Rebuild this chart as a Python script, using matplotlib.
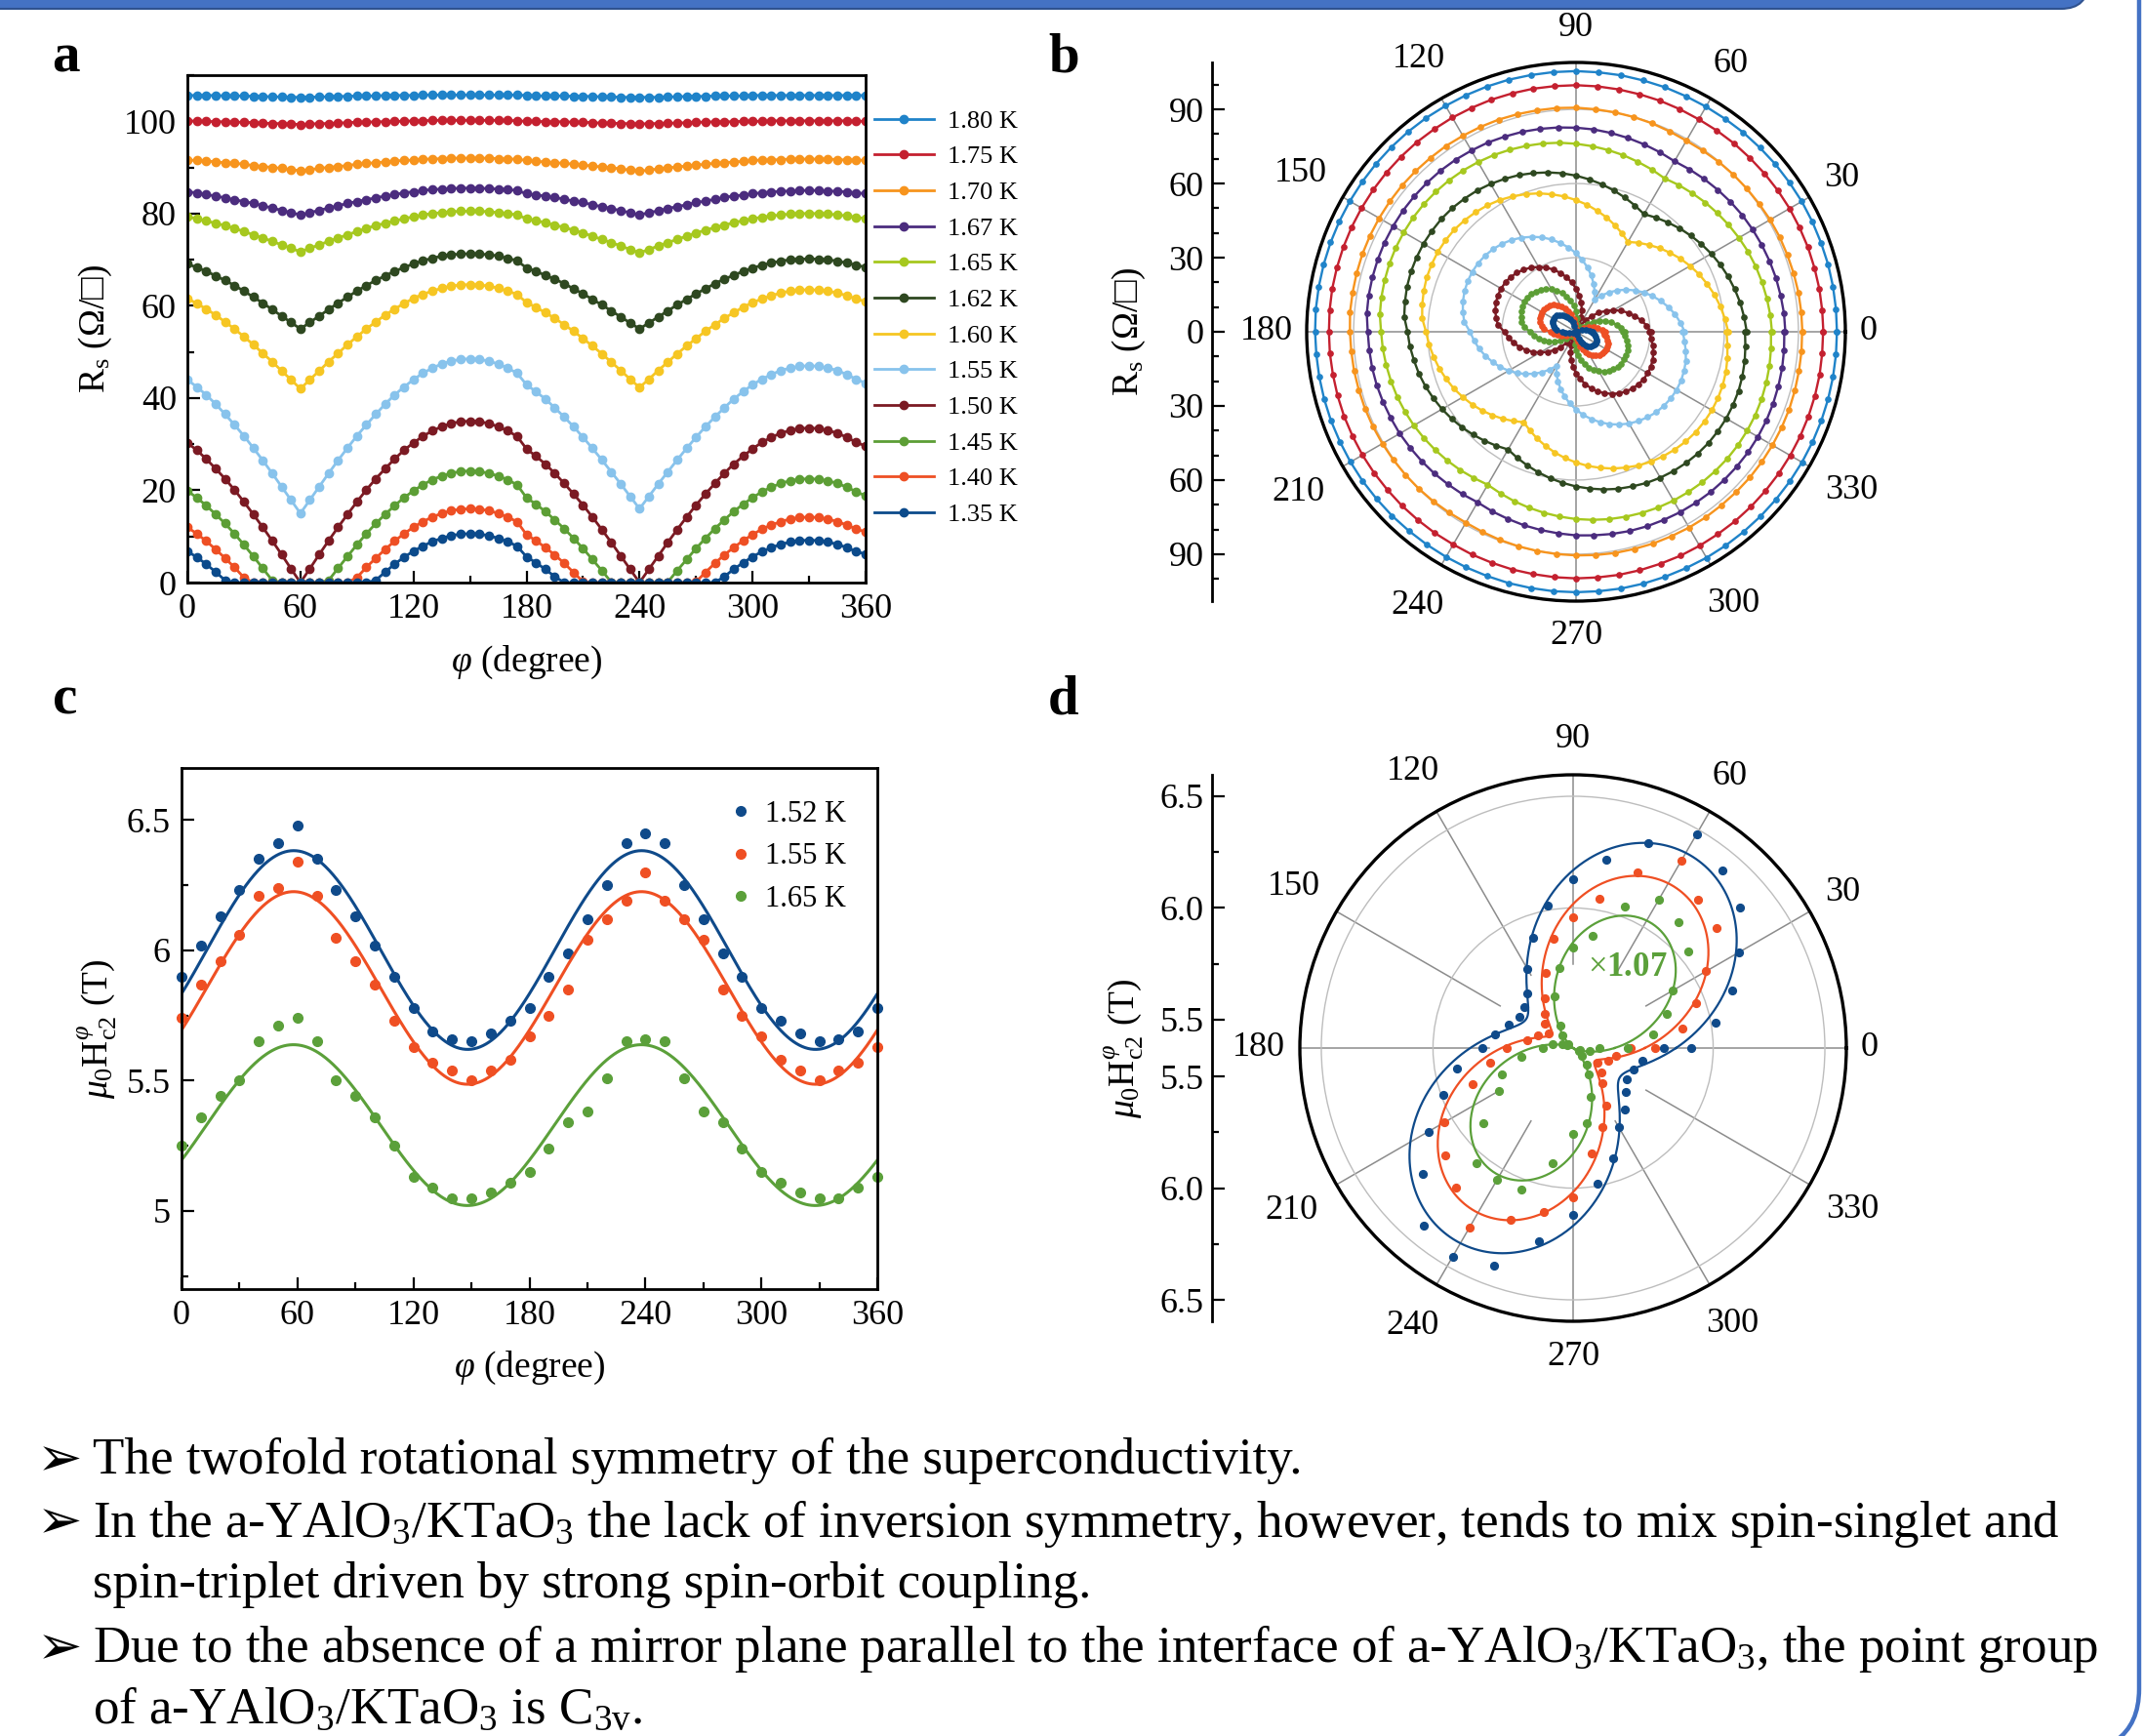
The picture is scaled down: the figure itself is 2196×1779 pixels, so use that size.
"""
Anisotropic superconductivity figure (panels a-d) with slide-style notes.
Saves out.png at 2196x1779.
"""
import numpy as np
import matplotlib
matplotlib.use('Agg')
import matplotlib.pyplot as plt
from matplotlib.patches import FancyBboxPatch, PathPatch
from matplotlib.path import Path
from matplotlib.transforms import IdentityTransform

plt.rcParams['font.family'] = ['Liberation Serif', 'DejaVu Sans']
plt.rcParams['mathtext.fontset'] = 'custom'
plt.rcParams['mathtext.rm'] = 'Liberation Serif'
plt.rcParams['mathtext.it'] = 'Liberation Serif:italic'
plt.rcParams['mathtext.bf'] = 'Liberation Serif:bold'
plt.rcParams['mathtext.fallback'] = 'stix'

# ---------------- data: panel a / b (R_s vs field angle) ----------------
phi_a = np.arange(0, 361, 5)
temps_a = ['1.80', '1.75', '1.70', '1.67', '1.65', '1.62',
           '1.60', '1.55', '1.50', '1.45', '1.40', '1.35']
colors_a = ['#1f83c9', '#c4202f', '#f7941d', '#4b2c7e', '#a6c81e', '#2e4820',
            '#f6c623', '#88c3ec', '#7b1a23', '#5c9e35', '#ee4f24', '#0b4a8b']

R_180 = [105.6, 105.6, 105.6, 105.6, 105.5, 105.5, 105.5, 105.4, 105.4, 105.3, 105.3, 105.2,
         105.2, 105.2, 105.3, 105.3, 105.4, 105.4, 105.5, 105.5, 105.5, 105.6, 105.6, 105.6,
         105.6, 105.7, 105.7, 105.7, 105.7, 105.7, 105.7, 105.7, 105.7, 105.7, 105.7, 105.7,
         105.6, 105.5, 105.5, 105.5, 105.5, 105.4, 105.4, 105.4, 105.3, 105.3, 105.2, 105.2,
         105.2, 105.2, 105.2, 105.3, 105.3, 105.4, 105.4, 105.4, 105.5, 105.5, 105.5, 105.5,
         105.6, 105.6, 105.6, 105.6, 105.6, 105.6, 105.6, 105.6, 105.6, 105.6, 105.6, 105.6,
         105.6]
R_175 = [100.1, 100.0, 100.0, 99.9, 99.9, 99.8, 99.8, 99.7, 99.6, 99.5, 99.5, 99.4,
         99.3, 99.4, 99.5, 99.5, 99.6, 99.7, 99.8, 99.8, 99.9, 99.9, 100.0, 100.0,
         100.1, 100.1, 100.2, 100.2, 100.2, 100.2, 100.2, 100.2, 100.2, 100.2, 100.2, 100.1,
         100.0, 100.0, 99.9, 99.9, 99.9, 99.8, 99.8, 99.7, 99.6, 99.6, 99.5, 99.5,
         99.4, 99.5, 99.5, 99.6, 99.6, 99.7, 99.8, 99.8, 99.9, 99.9, 99.9, 100.0,
         100.0, 100.0, 100.1, 100.1, 100.1, 100.1, 100.1, 100.1, 100.1, 100.1, 100.1, 100.0,
         100.0]
R_170 = [91.6, 91.5, 91.4, 91.2, 91.0, 90.9, 90.7, 90.4, 90.2, 90.0, 89.8, 89.5,
         89.3, 89.5, 89.8, 90.0, 90.2, 90.4, 90.7, 90.9, 91.0, 91.2, 91.4, 91.5,
         91.6, 91.8, 91.8, 91.9, 92.0, 92.0, 92.0, 92.0, 92.0, 91.9, 91.8, 91.8,
         91.5, 91.3, 91.2, 91.0, 90.9, 90.7, 90.5, 90.3, 90.1, 89.9, 89.7, 89.4,
         89.2, 89.4, 89.7, 89.9, 90.1, 90.3, 90.5, 90.7, 90.9, 91.0, 91.2, 91.3,
         91.5, 91.6, 91.6, 91.7, 91.8, 91.8, 91.8, 91.8, 91.8, 91.7, 91.6, 91.6,
         91.5]
R_167 = [84.7, 84.5, 84.1, 83.8, 83.4, 83.0, 82.6, 82.2, 81.7, 81.2, 80.7, 80.2,
         79.7, 80.2, 80.7, 81.2, 81.7, 82.2, 82.6, 83.0, 83.4, 83.8, 84.1, 84.5,
         84.7, 85.0, 85.2, 85.3, 85.4, 85.5, 85.5, 85.5, 85.4, 85.3, 85.2, 85.0,
         84.3, 84.0, 83.8, 83.5, 83.1, 82.7, 82.4, 81.9, 81.5, 81.1, 80.6, 80.2,
         79.7, 80.2, 80.6, 81.1, 81.5, 81.9, 82.4, 82.7, 83.1, 83.5, 83.8, 84.0,
         84.3, 84.5, 84.7, 84.8, 84.9, 85.0, 85.0, 85.0, 84.9, 84.8, 84.7, 84.5,
         84.3]
R_165 = [79.3, 78.9, 78.4, 77.9, 77.4, 76.8, 76.1, 75.4, 74.7, 74.0, 73.2, 72.5,
         71.7, 72.5, 73.2, 74.0, 74.7, 75.4, 76.1, 76.8, 77.4, 77.9, 78.4, 78.9,
         79.3, 79.7, 80.0, 80.2, 80.4, 80.5, 80.5, 80.5, 80.4, 80.2, 80.0, 79.7,
         78.9, 78.5, 78.0, 77.5, 77.0, 76.4, 75.8, 75.1, 74.4, 73.7, 73.0, 72.2,
         71.5, 72.2, 73.0, 73.7, 74.4, 75.1, 75.8, 76.4, 77.0, 77.5, 78.0, 78.5,
         78.9, 79.2, 79.5, 79.7, 79.9, 80.0, 80.0, 80.0, 79.9, 79.7, 79.5, 79.2,
         78.9]
R_162 = [69.1, 68.3, 67.5, 66.5, 65.5, 64.4, 63.2, 61.9, 60.6, 59.2, 57.8, 56.4,
         55.0, 56.4, 57.8, 59.2, 60.6, 61.9, 63.2, 64.4, 65.5, 66.5, 67.5, 68.3,
         69.1, 69.8, 70.3, 70.8, 71.1, 71.2, 71.3, 71.2, 71.1, 70.8, 70.3, 69.8,
         68.2, 67.5, 66.6, 65.8, 64.8, 63.7, 62.6, 61.4, 60.2, 58.9, 57.6, 56.3,
         55.0, 56.3, 57.6, 58.9, 60.2, 61.4, 62.6, 63.7, 64.8, 65.8, 66.6, 67.5,
         68.2, 68.8, 69.3, 69.7, 70.0, 70.1, 70.2, 70.1, 70.0, 69.7, 69.3, 68.8,
         68.4]
R_160 = [61.6, 60.5, 59.3, 58.0, 56.5, 55.0, 53.3, 51.6, 49.7, 47.9, 45.9, 44.0,
         42.0, 44.0, 45.9, 47.9, 49.7, 51.6, 53.3, 55.0, 56.5, 58.0, 59.3, 60.5,
         61.6, 62.5, 63.2, 63.8, 64.3, 64.5, 64.6, 64.5, 64.3, 63.8, 63.2, 62.5,
         60.7, 59.7, 58.5, 57.3, 55.9, 54.5, 52.9, 51.3, 49.6, 47.8, 46.0, 44.1,
         42.3, 44.1, 46.0, 47.8, 49.6, 51.3, 52.9, 54.5, 55.9, 57.3, 58.5, 59.7,
         60.7, 61.5, 62.2, 62.8, 63.2, 63.4, 63.5, 63.4, 63.2, 62.8, 62.2, 61.5,
         60.9]
R_155 = [44.0, 42.4, 40.7, 38.7, 36.5, 34.2, 31.8, 29.2, 26.5, 23.7, 20.8, 17.9,
         15.0, 17.9, 20.8, 23.7, 26.5, 29.2, 31.8, 34.2, 36.5, 38.7, 40.7, 42.4,
         44.0, 45.4, 46.5, 47.4, 48.0, 48.4, 48.5, 48.4, 48.0, 47.4, 46.5, 45.4,
         42.9, 41.4, 39.8, 37.9, 35.9, 33.8, 31.5, 29.1, 26.6, 24.0, 21.4, 18.7,
         16.0, 18.7, 21.4, 24.0, 26.6, 29.1, 31.5, 33.8, 35.9, 37.9, 39.8, 41.4,
         42.9, 44.1, 45.1, 46.0, 46.5, 46.9, 47.0, 46.9, 46.5, 46.0, 45.1, 44.1,
         43.2]
R_150 = [30.3, 28.7, 26.8, 24.7, 22.5, 20.1, 17.5, 14.8, 12.0, 9.1, 6.1, 3.0,
         0.0, 3.0, 6.1, 9.1, 12.0, 14.8, 17.5, 20.1, 22.5, 24.7, 26.8, 28.7,
         30.3, 31.7, 32.9, 33.8, 34.5, 34.9, 35.0, 34.9, 34.5, 33.8, 32.9, 31.7,
         29.0, 27.4, 25.7, 23.7, 21.5, 19.2, 16.8, 14.2, 11.5, 8.7, 5.8, 2.9,
         0.0, 2.9, 5.8, 8.7, 11.5, 14.2, 16.8, 19.2, 21.5, 23.7, 25.7, 27.4,
         29.0, 30.4, 31.5, 32.4, 33.0, 33.4, 33.5, 33.4, 33.0, 32.4, 31.5, 30.4,
         29.6]
R_145 = [19.9, 18.4, 16.7, 14.8, 12.8, 10.6, 8.2, 5.7, 3.1, 0.5, 0.0, 0.0,
         0.0, 0.0, 0.0, 0.5, 3.1, 5.7, 8.2, 10.6, 12.8, 14.8, 16.7, 18.4,
         19.9, 21.2, 22.3, 23.1, 23.7, 24.1, 24.2, 24.1, 23.7, 23.1, 22.3, 21.2,
         18.4, 17.0, 15.4, 13.6, 11.7, 9.6, 7.4, 5.0, 2.6, 0.1, 0.0, 0.0,
         0.0, 0.0, 0.0, 0.1, 2.6, 5.0, 7.4, 9.6, 11.7, 13.6, 15.4, 17.0,
         18.4, 19.7, 20.7, 21.5, 22.1, 22.4, 22.5, 22.4, 22.1, 21.5, 20.7, 19.7,
         18.8]
R_140 = [12.0, 10.6, 9.0, 7.2, 5.3, 3.3, 1.1, 0.0, 0.0, 0.0, 0.0, 0.0,
         0.0, 0.0, 0.0, 0.0, 0.0, 0.0, 1.1, 3.3, 5.3, 7.2, 9.0, 10.6,
         12.0, 13.2, 14.2, 15.0, 15.6, 15.9, 16.0, 15.9, 15.6, 15.0, 14.2, 13.2,
         10.4, 9.1, 7.6, 6.0, 4.2, 2.2, 0.2, 0.0, 0.0, 0.0, 0.0, 0.0,
         0.0, 0.0, 0.0, 0.0, 0.0, 0.0, 0.2, 2.2, 4.2, 6.0, 7.6, 9.1,
         10.4, 11.6, 12.5, 13.2, 13.8, 14.1, 14.2, 14.1, 13.8, 13.2, 12.5, 11.6,
         11.0]
R_135 = [6.8, 5.5, 4.0, 2.3, 0.5, 0.0, 0.0, 0.0, 0.0, 0.0, 0.0, 0.0,
         0.0, 0.0, 0.0, 0.0, 0.0, 0.0, 0.0, 0.0, 0.5, 2.3, 4.0, 5.5,
         6.8, 7.9, 8.9, 9.6, 10.2, 10.5, 10.6, 10.5, 10.2, 9.6, 8.9, 7.9,
         5.6, 4.3, 2.9, 1.3, 0.0, 0.0, 0.0, 0.0, 0.0, 0.0, 0.0, 0.0,
         0.0, 0.0, 0.0, 0.0, 0.0, 0.0, 0.0, 0.0, 0.0, 1.3, 2.9, 4.3,
         5.6, 6.7, 7.6, 8.3, 8.8, 9.1, 9.2, 9.1, 8.8, 8.3, 7.6, 6.7,
         6.2]
R_s = [R_180, R_175, R_170, R_167, R_165, R_162,
       R_160, R_155, R_150, R_145, R_140, R_135]

# ---------------- data: panel c / d (upper critical field) ----------------
phi_c = np.arange(0, 361, 10)
temps_c = ['1.52', '1.55', '1.65']
colors_c = ['#0f4a8a', '#ef4f23', '#5ba03a']
Hc2_152 = [5.90, 6.02, 6.13, 6.23, 6.35, 6.41, 6.48, 6.35, 6.23, 6.13, 6.02, 5.90,
           5.78, 5.69, 5.66, 5.65, 5.68, 5.73, 5.78, 5.90, 5.99, 6.12, 6.25, 6.41,
           6.45, 6.41, 6.25, 6.12, 5.99, 5.90, 5.78, 5.73, 5.68, 5.65, 5.66, 5.69,
           5.78]
Hc2_155 = [5.74, 5.87, 5.96, 6.06, 6.21, 6.24, 6.34, 6.21, 6.05, 5.96, 5.87, 5.73,
           5.63, 5.57, 5.54, 5.50, 5.54, 5.58, 5.67, 5.75, 5.85, 6.04, 6.12, 6.19,
           6.30, 6.19, 6.12, 6.04, 5.85, 5.75, 5.67, 5.58, 5.54, 5.50, 5.54, 5.57,
           5.63]
Hc2_165 = [5.25, 5.36, 5.44, 5.50, 5.65, 5.71, 5.74, 5.65, 5.50, 5.44, 5.36, 5.25,
           5.13, 5.09, 5.05, 5.05, 5.07, 5.11, 5.15, 5.24, 5.34, 5.38, 5.51, 5.65,
           5.66, 5.65, 5.51, 5.38, 5.34, 5.24, 5.15, 5.11, 5.07, 5.05, 5.05, 5.09,
           5.13]
Hc2 = [Hc2_152, Hc2_155, Hc2_165]
d_scale = [1.0, 1.0, 1.07]
theta_labels = list(range(0, 360, 30))
# distance of each angle label from the centre, relative to the outer circle
label_dist = [1.085, 1.14, 1.15, 1.13, 1.17, 1.18, 1.15, 1.19, 1.175, 1.13, 1.165, 1.18]

W, H = 2196, 1779
fig = plt.figure(figsize=(W / 100, H / 100), dpi=100)


def box(l, t, r, b):
    # pixel box (from top-left) -> figure fraction rect
    return [l / W, 1 - b / H, (r - l) / W, (b - t) / H]


def style_cartesian(ax):
    for s in ax.spines.values():
        s.set_linewidth(2.0)
    ax.tick_params(which='both', direction='in', top=False, right=False,
                   labelsize=26, width=1.6)
    ax.tick_params(which='major', length=9, pad=8)
    ax.tick_params(which='minor', length=5)


def scale_axis(rect, lim, ticks, labels, minors):
    sc = fig.add_axes(rect)
    sc.set_ylim(-lim, lim)
    for s in ['top', 'right', 'bottom']:
        sc.spines[s].set_visible(False)
    sc.spines['left'].set_linewidth(2.0)
    sc.set_xticks([])
    sc.set_yticks(ticks)
    sc.set_yticklabels(labels)
    sc.set_yticks(minors, minor=True)
    sc.tick_params(which='both', direction='in', labelsize=26, width=1.6)
    sc.tick_params(which='major', length=9, pad=6)
    sc.tick_params(which='minor', length=5)
    sc.patch.set_visible(False)
    return sc


def style_polar(ax, rmin, rmax):
    ax.set_xticks(np.radians(theta_labels))
    ax.set_xticklabels([])
    ax.set_xticks(np.radians(np.arange(15, 360, 30)), minor=True)
    ax.tick_params(axis='x', which='major', direction='in', length=10, width=2)
    ax.tick_params(axis='x', which='minor', direction='in', length=6, width=1.5)
    ax.spines['polar'].set_linewidth(2.4)
    ax.set_yticklabels([])
    ax.yaxis.grid(True, color='#bdbdbd', lw=1.0)
    for a, f in zip(theta_labels, label_dist):
        ax.text(np.radians(a), rmin + (rmax - rmin) * f, str(a), fontsize=26,
                ha='center', va='center', clip_on=False)


# ---------------- panel a ----------------
ax_a = fig.add_axes(box(192, 77, 887, 597))
for T, R, c in zip(temps_a, R_s, colors_a):
    ax_a.plot(phi_a, R, '-o', color=c, lw=2.0, ms=6.0, label=f'{T} K')
ax_a.set_xlim(0, 360)
ax_a.set_ylim(0, 110)
ax_a.set_xticks(range(0, 361, 60))
ax_a.set_xticks(range(30, 360, 60), minor=True)
ax_a.set_yticks(range(0, 101, 20))
ax_a.set_yticks(range(10, 111, 20), minor=True)
style_cartesian(ax_a)
ax_a.set_xlabel(r'$\varphi$ (degree)', fontsize=27)
ax_a.xaxis.set_label_coords(0.5, -0.121)
ax_a.set_ylabel(r'R$_\mathrm{s}$ ($\Omega$/□)', fontsize=27)
ax_a.yaxis.set_label_coords(-0.108, 0.5)
ax_a.legend(loc='upper left', bbox_to_anchor=(1.013, 0.932), frameon=False,
            fontsize=19, handlelength=2.3, handletextpad=0.55, labelspacing=0.5,
            borderpad=0, borderaxespad=0)

# ---------------- panel b ----------------
ax_b = fig.add_axes(box(1339, 64, 1891, 616), projection='polar')
th_a = np.radians(phi_a)
for R, c in zip(R_s, colors_a):
    ax_b.plot(th_a, R, '-o', color=c, lw=1.7, ms=3.8)
ax_b.set_ylim(0, 109)
ax_b.set_yticks([30, 60, 90])
style_polar(ax_b, 0, 109)
ax_b.xaxis.grid(True, color='#8c8c8c', lw=1.1)
b_vals = [90, 60, 30, 0]
scale_axis(box(1242, 64, 1243, 616), 109,
           [v for v in b_vals] + [-v for v in b_vals[:-1]],
           [str(v) for v in b_vals] + [str(v) for v in b_vals[:-1]],
           [v for v in range(-100, 101, 10) if v % 30 != 0])
fig.text(1157 / W, 1 - 340 / H, r'R$_\mathrm{s}$ ($\Omega$/□)', rotation=90,
         ha='center', va='center', fontsize=27)

# ---------------- panel c ----------------
ax_c = fig.add_axes(box(186, 787, 899, 1321))
phi_fit = np.linspace(0, 360, 721)
fits = []
for T, Hv, c in zip(temps_c, Hc2, colors_c):
    ang = np.radians(phi_c)
    A = np.column_stack([np.ones_like(ang), np.cos(2 * ang), np.sin(2 * ang)])
    coef = np.linalg.lstsq(A, np.array(Hv), rcond=None)[0]
    af = np.radians(phi_fit)
    fit = coef[0] + coef[1] * np.cos(2 * af) + coef[2] * np.sin(2 * af)
    fits.append(fit)
    ax_c.plot(phi_c, Hv, 'o', color=c, ms=7, label=f'{T} K', clip_on=False)
    ax_c.plot(phi_fit, fit, '-', color=c, lw=2.2)
ax_c.set_xlim(0, 360)
ax_c.set_ylim(4.7, 6.7)
ax_c.set_xticks(range(0, 361, 60))
ax_c.set_xticks(range(30, 360, 60), minor=True)
ax_c.set_yticks([5, 5.5, 6, 6.5])
ax_c.set_yticklabels(['5', '5.5', '6', '6.5'])
ax_c.set_yticks([4.75, 5.25, 5.75, 6.25], minor=True)
style_cartesian(ax_c)
ax_c.set_xlabel(r'$\varphi$ (degree)', fontsize=27)
ax_c.xaxis.set_label_coords(0.5, -0.116)
ax_c.set_ylabel(r'$\mu_\mathrm{0}$H$_{\mathrm{c2}}^{\varphi}$ (T)', fontsize=27)
ax_c.yaxis.set_label_coords(-0.09, 0.5)
ax_c.legend(loc='upper left', bbox_to_anchor=(0.787, 0.938), frameon=False,
            fontsize=22, handlelength=0.8, handletextpad=0.42, labelspacing=0.47,
            borderpad=0, borderaxespad=0, numpoints=1)

# ---------------- panel d ----------------
d_rmin, d_rmax = 5.373, 6.596
ax_d = fig.add_axes(box(1332, 794, 1892, 1354), projection='polar')
for Hv, fit, k, c in zip(Hc2, fits, d_scale, colors_c):
    ax_d.plot(np.radians(phi_fit), fit * k, '-', color=c, lw=1.6)
    ax_d.plot(np.radians(phi_c), np.array(Hv) * k, 'o', color=c, ms=5.6)
ax_d.set_ylim(d_rmin, d_rmax)
ax_d.set_yticks([6.0, 6.5])
style_polar(ax_d, d_rmin, d_rmax)
ax_d.xaxis.grid(False)
for a in range(0, 360, 30):
    ax_d.plot([np.radians(a)] * 2, [5.75, d_rmax], color='#8c8c8c', lw=1.1, zorder=0.5)
ax_d.text(0.60, 0.648, r'$\times$1.07', transform=ax_d.transAxes, color=colors_c[2],
          fontsize=25, fontweight='bold', ha='center', va='center')
d_vals = [6.5, 6.0, 5.5]
scale_axis(box(1242, 794, 1243, 1354), d_rmax - d_rmin,
           [v - d_rmin for v in d_vals] + [d_rmin - v for v in d_vals],
           [f'{v:.1f}' for v in d_vals] * 2,
           [v - d_rmin for v in (6.25, 5.75)] + [d_rmin - v for v in (6.25, 5.75)])
fig.text(1152 / W, 1 - 1074 / H, r'$\mu_\mathrm{0}$H$_{\mathrm{c2}}^{\varphi}$ (T)',
         rotation=90, ha='center', va='center', fontsize=27)

# ---------------- panel letters ----------------
for lab, x, y in [('a', 67, 59), ('b', 1090, 59), ('c', 67, 717), ('d', 1090, 717)]:
    fig.text(x / W, 1 - y / H, lab, fontsize=41, fontweight='bold', ha='center', va='center')

# ---------------- bullet notes ----------------
notes = ["The twofold rotational symmetry of the superconductivity.",
         "In the a-YAlO$_\\mathrm{3}$/KTaO$_\\mathrm{3}$ the lack of inversion symmetry, "
         "however, tends to mix spin-singlet and",
         "spin-triplet driven by strong spin-orbit coupling.",
         "Due to the absence of a mirror plane parallel to the interface of "
         "a-YAlO$_\\mathrm{3}$/KTaO$_\\mathrm{3}$, the point group",
         "of a-YAlO$_\\mathrm{3}$/KTaO$_\\mathrm{3}$ is C$_{\\mathrm{3v}}$."]
note_y = [1497, 1561, 1624, 1690, 1753]
arrows = [True, True, False, True, False]
for txt, y, arr in zip(notes, note_y, arrows):
    fig.text(95 / W, 1 - y / H, txt, fontsize=38.2, ha='left', va='center')
    if arr:
        fig.text(38 / W, 1 - y / H, '\u27a2', fontsize=40, ha='left', va='center',
                 family='DejaVu Sans')

# ---------------- slide decorations ----------------
banner = FancyBboxPatch((-40, H - 9), 2180, 60, boxstyle='round,pad=0,rounding_size=28',
                        fc='#4472c4', ec='#2f528f', lw=1.5, transform=IdentityTransform())
fig.add_artist(banner)
edge = Path([(2192, H + 5), (2192, 48), (2192, 12), (2168, -5)],
            [Path.MOVETO, Path.LINETO, Path.CURVE3, Path.CURVE3])
fig.add_artist(PathPatch(edge, fc='none', ec='#4472c4', lw=3.2, transform=IdentityTransform()))

fig.savefig('out.png', dpi=100)
